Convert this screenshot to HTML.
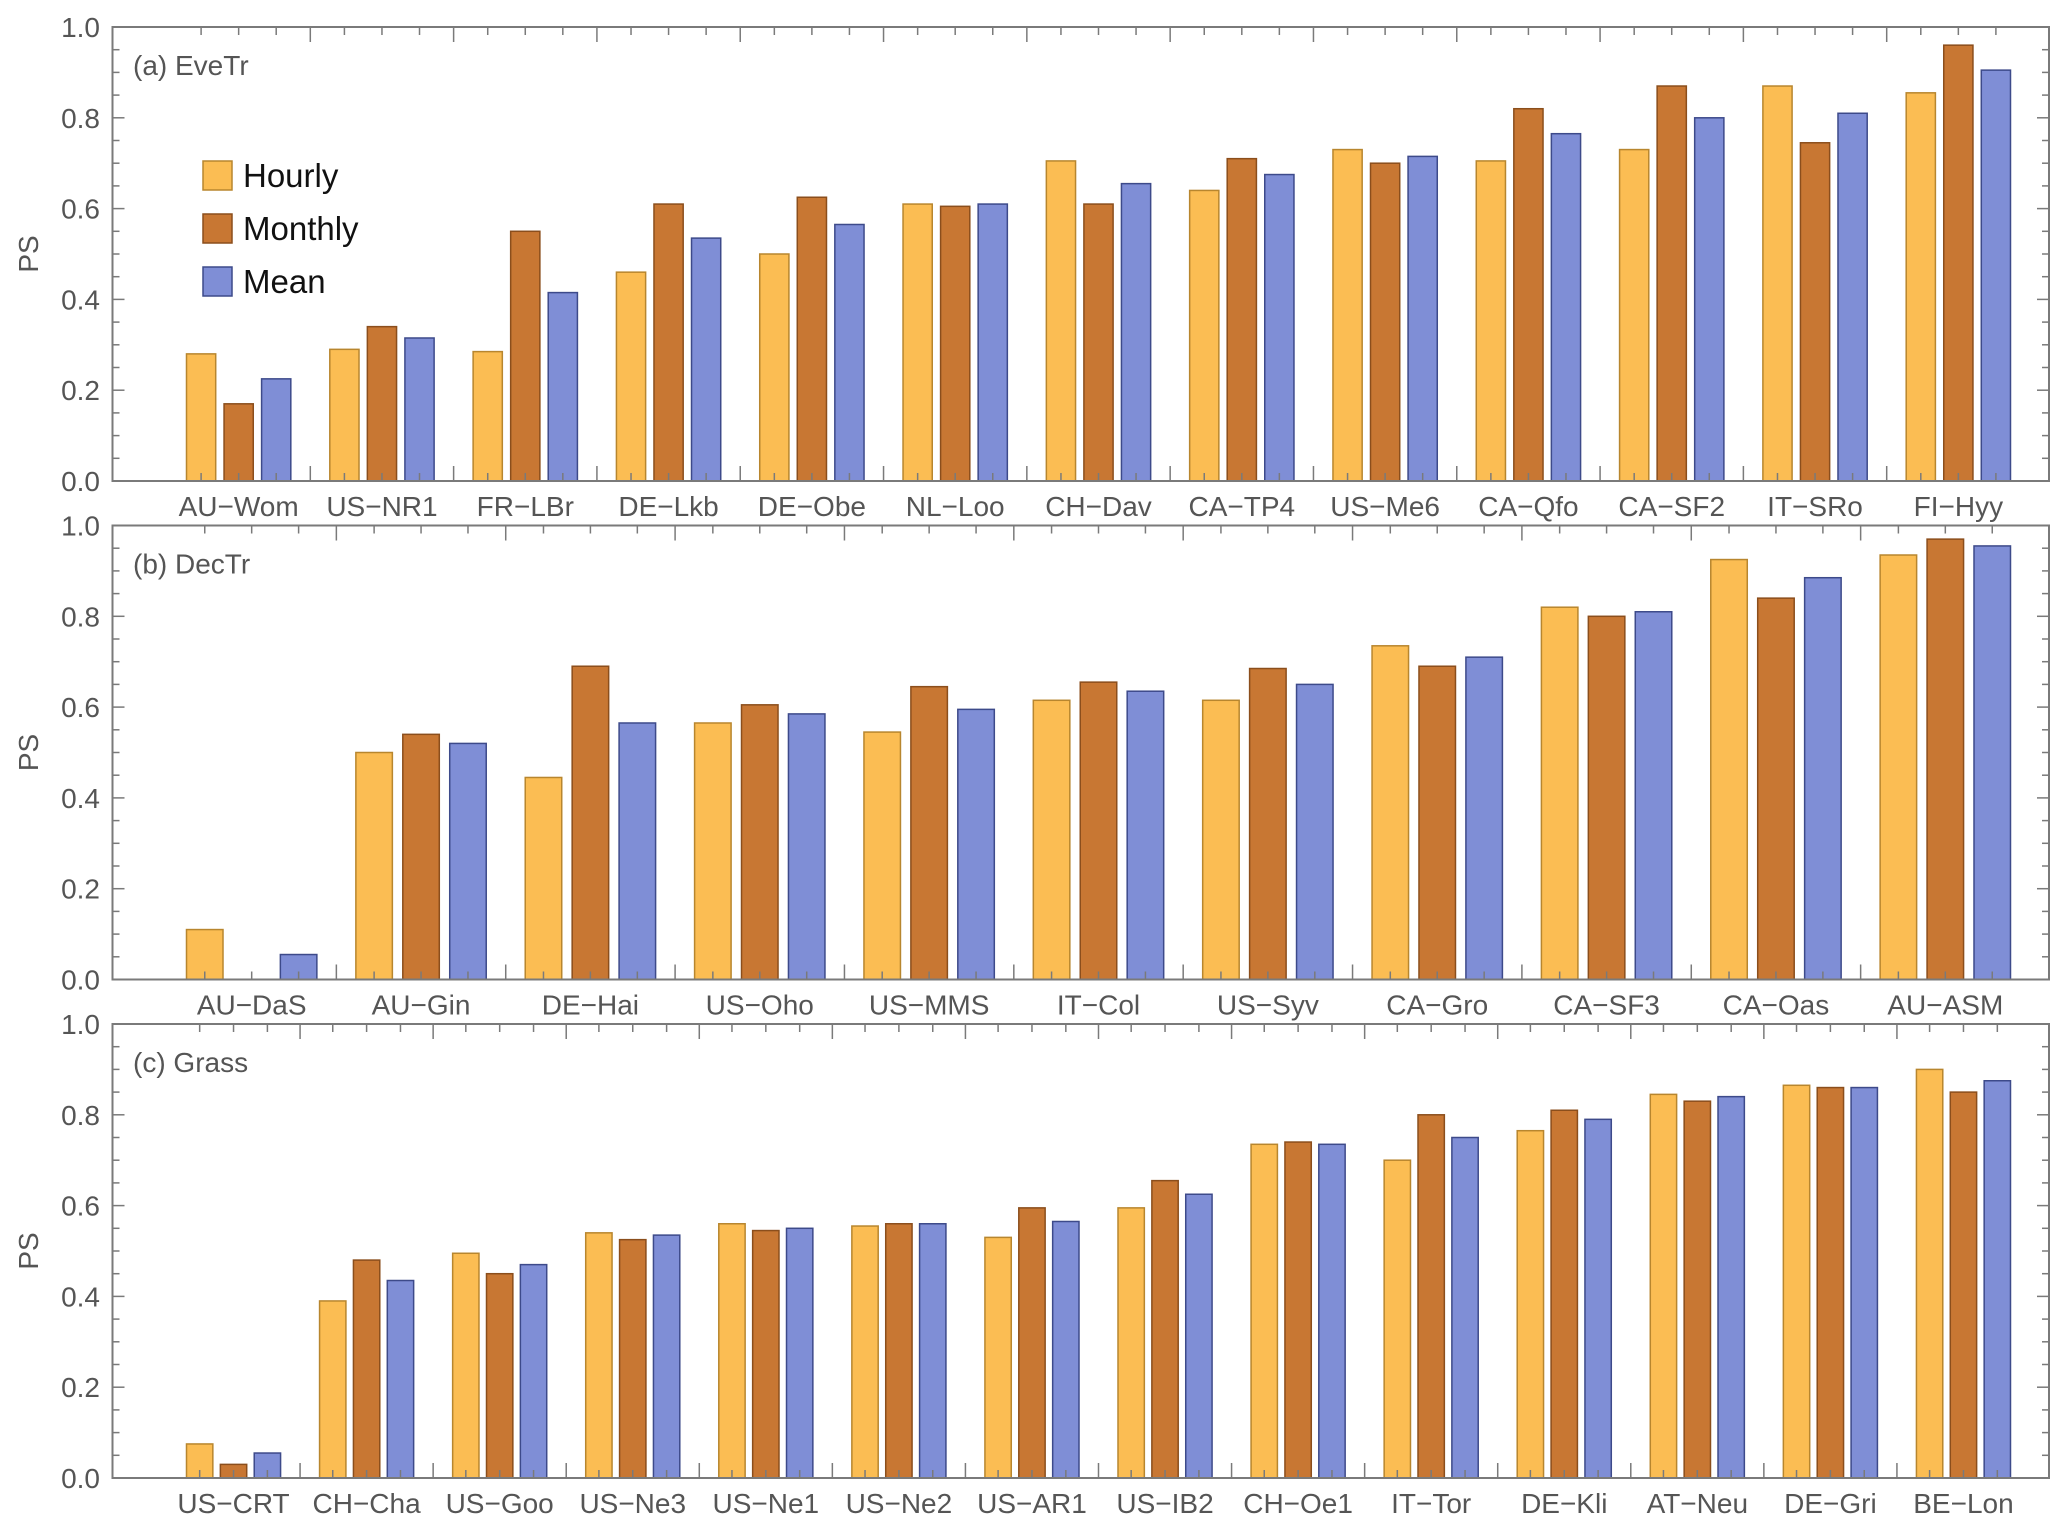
<!DOCTYPE html>
<html><head><meta charset="utf-8"><style>
html,body{margin:0;padding:0;background:#fff;}
svg{display:block;font-family:"Liberation Sans",sans-serif;}
</style></head><body>
<svg id="chart" width="2067" height="1532" viewBox="0 0 2067 1532"></svg>
<script>
const seriesNames = ["Hourly","Monthly","Mean"];
const catsA = ["AU\u2212Wom","US\u2212NR1","FR\u2212LBr","DE\u2212Lkb","DE\u2212Obe","NL\u2212Loo","CH\u2212Dav","CA\u2212TP4","US\u2212Me6","CA\u2212Qfo","CA\u2212SF2","IT\u2212SRo","FI\u2212Hyy"];
const hourlyA = [0.28,0.29,0.285,0.46,0.50,0.61,0.705,0.64,0.73,0.705,0.73,0.87,0.855];
const monthlyA = [0.17,0.34,0.55,0.61,0.625,0.605,0.61,0.71,0.70,0.82,0.87,0.745,0.96];
const meanA = [0.225,0.315,0.415,0.535,0.565,0.61,0.655,0.675,0.715,0.765,0.80,0.81,0.905];
const catsB = ["AU\u2212DaS","AU\u2212Gin","DE\u2212Hai","US\u2212Oho","US\u2212MMS","IT\u2212Col","US\u2212Syv","CA\u2212Gro","CA\u2212SF3","CA\u2212Oas","AU\u2212ASM"];
const hourlyB = [0.11,0.50,0.445,0.565,0.545,0.615,0.615,0.735,0.82,0.925,0.935];
const monthlyB = [0,0.54,0.69,0.605,0.645,0.655,0.685,0.69,0.80,0.84,0.97];
const meanB = [0.055,0.52,0.565,0.585,0.595,0.635,0.65,0.71,0.81,0.885,0.955];
const catsC = ["US\u2212CRT","CH\u2212Cha","US\u2212Goo","US\u2212Ne3","US\u2212Ne1","US\u2212Ne2","US\u2212AR1","US\u2212IB2","CH\u2212Oe1","IT\u2212Tor","DE\u2212Kli","AT\u2212Neu","DE\u2212Gri","BE\u2212Lon"];
const hourlyC = [0.075,0.39,0.495,0.54,0.56,0.555,0.53,0.595,0.735,0.70,0.765,0.845,0.865,0.90];
const monthlyC = [0.03,0.48,0.45,0.525,0.545,0.56,0.595,0.655,0.74,0.80,0.81,0.83,0.86,0.85];
const meanC = [0.055,0.435,0.47,0.535,0.55,0.56,0.565,0.625,0.735,0.75,0.79,0.84,0.86,0.875];
const yTicks = ["0.0","0.2","0.4","0.6","0.8","1.0"];
const panelTitles = ["(a) EveTr","(b) DecTr","(c) Grass"];

const NS="http://www.w3.org/2000/svg";
const svg=document.getElementById('chart');
const fills=["#FBBD53","#C87733","#7F8ED6"];
const strokes=["#B8862E","#8B4E1C","#3D4A8A"];
const axisCol="#7a7a7a", textCol="#555";
function mk(tag,attrs,parent){const e=document.createElementNS(NS,tag);for(const k in attrs)e.setAttribute(k,attrs[k]);(parent||svg).appendChild(e);return e;}

const L=112.5,R=2049,G0=167,G1=2030;
const panels=[
 {top:27,cats:catsA,vals:[hourlyA,monthlyA,meanA],key:"a"},
 {top:525.5,cats:catsB,vals:[hourlyB,monthlyB,meanB],key:"b"},
 {top:1024,cats:catsC,vals:[hourlyC,monthlyC,meanC],key:"c"}];
const H=454;

panels.forEach((p,pi)=>{
  const g=mk('g',{});
  
  
  const bottom=p.top+H;
  const y=v=>bottom-v*H;
  const n=p.cats.length, gw=(G1-G0)/n, span=gw-39, bw=span*0.28, gap=(span-3*bw)/2;
  for(let i=0;i<n;i++){
    const x0=G0+i*gw+19.5;
    for(let s=0;s<3;s++){
      const v=p.vals[s][i];
      const bx=x0+s*(bw+gap);
      const r=mk('rect',{x:bx,y:y(v),width:bw,height:Math.max(0,v*H),fill:fills[s],stroke:strokes[s],'stroke-width':1.5},g);
      
      
      const cx=bx+bw/2;
      mk('line',{x1:cx,x2:cx,y1:bottom,y2:bottom-8,stroke:axisCol,'stroke-width':1.5},g);
      mk('line',{x1:cx,x2:cx,y1:p.top,y2:p.top+8,stroke:axisCol,'stroke-width':1.5},g);
    }
    const lbl=mk('text',{x:G0+(i+0.5)*gw,y:bottom+35,'text-anchor':'middle','font-size':28,fill:textCol},g);
    lbl.textContent=p.cats[i];
    
    
  }
  for(let i=1;i<n;i++){
    const sx=G0+i*gw;
    mk('line',{x1:sx,x2:sx,y1:bottom,y2:bottom-15,stroke:axisCol,'stroke-width':1.5},g);
    mk('line',{x1:sx,x2:sx,y1:p.top,y2:p.top+15,stroke:axisCol,'stroke-width':1.5},g);
  }
  for(let k=0;k<=20;k++){
    const v=k*0.05, yy=y(v), major=k%4===0, len=major?12:7;
    mk('line',{x1:L,x2:L+len,y1:yy,y2:yy,stroke:axisCol,'stroke-width':1.5},g);
    mk('line',{x1:R,x2:R-len,y1:yy,y2:yy,stroke:axisCol,'stroke-width':1.5},g);
  }
  yTicks.forEach((t,k)=>{
    const tl=mk('text',{x:100,y:y(k*0.2)+10,'text-anchor':'end','font-size':28,fill:textCol},g);
    tl.textContent=t;
    
    
  });
  const fr=mk('rect',{x:L,y:p.top,width:R-L,height:H,fill:'none',stroke:axisCol,'stroke-width':2},g);
  
  
  const yt=mk('text',{x:0,y:0,'text-anchor':'middle','font-size':28,fill:textCol,transform:`translate(38,${p.top+H/2}) rotate(-90)`},g);
  yt.textContent="PS";
  
  
  const pt=mk('text',{x:133,y:p.top+48,'font-size':28,fill:textCol},g);
  pt.textContent=panelTitles[pi];
  
  
});

const lg=mk('g',{});


seriesNames.forEach((s,i)=>{
  const yy=161+i*53;
  const sw=mk('rect',{x:203,y:yy,width:29,height:29,fill:fills[i],stroke:strokes[i],'stroke-width':1.5},lg);
  
  
  const t=mk('text',{x:243,y:yy+26,'font-size':33,fill:'#111'},lg);
  t.textContent=s;
  
  
});
</script>
</body></html>
